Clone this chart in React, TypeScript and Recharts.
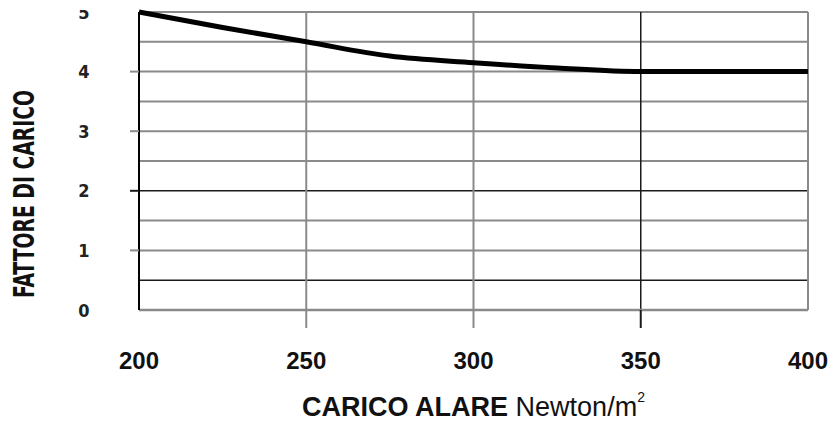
import { Label, Line, LineChart, ReferenceLine, XAxis, YAxis } from "recharts"

// carico alare (N/m²) vs fattore di carico
const wingLoad = [200, 225, 250, 275, 300, 325, 350, 375, 400]
const loadFactor = [5.0, 4.74, 4.5, 4.26, 4.15, 4.06, 4.0, 4.0, 4.0]

const xTicks = [200, 250, 300, 350, 400]
const yTicks = [0, 1, 2, 3, 4, 5]
const hGrid = [0.5, 1, 1.5, 2, 2.5, 3, 3.5, 4, 4.5, 5]
const vGrid = [250, 300, 350, 400]
const darkLines = [0.5, 2, 350]

const xTitle = "CARICO ALARE"
const xUnit = "Newton/m"
const yTitle = "FATTORE DI CARICO"

const data = wingLoad.map((x, i) => ({ x, y: loadFactor[i] }))

const sans = "'Liberation Sans', Arial, sans-serif"
const narrow = "'Liberation Sans Narrow', 'DejaVu Sans Condensed', 'Liberation Sans', sans-serif"
const gray = "#8a8a8a"

function gridStroke(v: number) {
  return darkLines.includes(v) ? "#1a1a1a" : gray
}

function XTick({ x, y, payload }: any) {
  const v = payload.value
  const inner = v !== xTicks[0] && v !== xTicks[xTicks.length - 1]
  return (
    <g>
      {inner && <line x1={x} x2={x} y1={y} y2={y + 18} stroke={gridStroke(v)} strokeWidth={2} />}
      <text x={x} y={y + 59} textAnchor="middle" fontSize={24} fontWeight="bold" fill="#111" fontFamily={sans}>
        {v}
      </text>
    </g>
  )
}

function YTick({ x, y, payload }: any) {
  const v = payload.value
  const hasMark = v > 0 && v < 5
  const text = (
    <text x={x - 55} y={y + 6.5} textAnchor="middle" fontSize={18} fontWeight="bold" fill="#222" fontFamily={narrow}>
      {v}
    </text>
  )
  return (
    <g>
      {hasMark && <line x1={x - 9} x2={x} y1={y} y2={y} stroke={gridStroke(v)} strokeWidth={2} />}
      {v === 5 ? (
        <>
          <defs>
            <clipPath id="top-cut">
              <rect x={x - 80} y={y - 2} width={60} height={20} />
            </clipPath>
          </defs>
          <g clipPath="url(#top-cut)">{text}</g>
        </>
      ) : (
        text
      )}
    </g>
  )
}

function YTitle({ viewBox }: any) {
  const cx = viewBox.x + 24
  const cy = viewBox.y + 182
  return (
    <text
      x={cx}
      y={cy}
      transform={`rotate(-90 ${cx} ${cy})`}
      textAnchor="middle"
      dominantBaseline="central"
      fontSize={28}
      fontWeight="bold"
      fill="#111"
      fontFamily={narrow}
      textLength={208}
      lengthAdjust="spacingAndGlyphs"
    >
      {yTitle}
    </text>
  )
}

function XTitle({ viewBox }: any) {
  return (
    <text
      x={viewBox.x + viewBox.width / 2}
      y={viewBox.y + 106}
      textAnchor="middle"
      fontSize={27}
      fill="#111"
      fontFamily={sans}
    >
      <tspan fontWeight="bold">{xTitle} </tspan>
      <tspan>{xUnit}</tspan>
      <tspan fontSize={14} dy={-14}>2</tspan>
    </text>
  )
}

export default function App() {
  return (
    <div
      style={{
        position: "absolute",
        top: 0,
        left: 0,
        width: 831,
        height: 424,
        overflow: "hidden",
        background: "#fff",
      }}
    >
      <LineChart width={831} height={424} data={data} margin={{ top: 12, right: 23, bottom: 0, left: 0 }}>
        <XAxis
          dataKey="x"
          type="number"
          domain={[200, 400]}
          ticks={xTicks}
          interval={0}
          height={114}
          tickSize={0}
          tickMargin={0}
          tickLine={false}
          tick={<XTick />}
          axisLine={{ stroke: gray, strokeWidth: 2.5 }}
        >
          <Label content={<XTitle />} />
        </XAxis>
        <YAxis
          type="number"
          domain={[0, 5]}
          ticks={yTicks}
          interval={0}
          width={139}
          tickSize={0}
          tickMargin={0}
          tickLine={false}
          tick={<YTick />}
          axisLine={{ stroke: "#000", strokeWidth: 2 }}
        >
          <Label content={<YTitle />} />
        </YAxis>
        {hGrid.map((v) => (
          <ReferenceLine key={`h${v}`} y={v} stroke={gridStroke(v)} strokeWidth={darkLines.includes(v) ? 1.5 : 2} />
        ))}
        {vGrid.map((v) => (
          <ReferenceLine key={`v${v}`} x={v} stroke={gridStroke(v)} strokeWidth={darkLines.includes(v) ? 1.5 : 2} />
        ))}
        <Line
          type="monotone"
          dataKey="y"
          stroke="#000"
          strokeWidth={5}
          dot={false}
          isAnimationActive={false}
        />
      </LineChart>
    </div>
  )
}
